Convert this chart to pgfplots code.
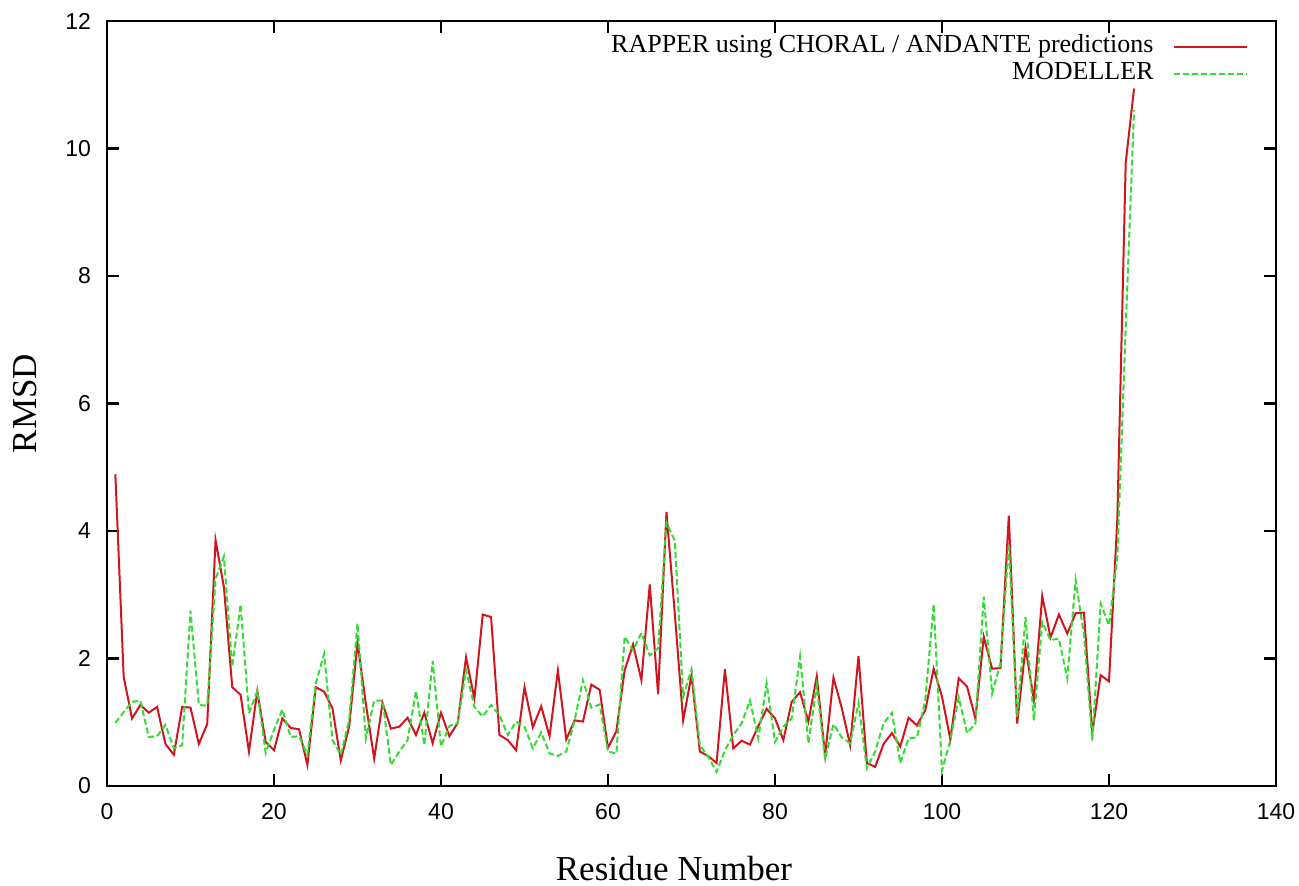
\documentclass[border=0pt]{standalone}
\usepackage{fontspec}
\setmainfont{Liberation Serif}
\newfontfamily\ticksans{Liberation Sans}
\usepackage{pgfplots}
\usepackage{pgfplotstable}
\pgfplotsset{compat=1.18}

\definecolor{gpred}{RGB}{210,20,30}
\definecolor{gpgreen}{RGB}{50,220,50}

% residue, RAPPER, MODELLER
\pgfplotstableread{
x red green
1 4.89 0.99
2 1.71 1.16
3 1.06 1.32
4 1.27 1.34
5 1.15 0.77
6 1.24 0.78
7 0.66 0.96
8 0.49 0.59
9 1.24 0.64
10 1.23 2.75
11 0.66 1.27
12 0.97 1.26
13 3.86 3.25
14 3.12 3.60
15 1.55 1.87
16 1.43 2.85
17 0.54 1.14
18 1.49 1.49
19 0.69 0.52
20 0.56 0.88
21 1.06 1.20
22 0.91 0.77
23 0.89 0.78
24 0.33 0.49
25 1.55 1.61
26 1.48 2.07
27 1.22 0.72
28 0.40 0.49
29 0.93 1.03
30 2.25 2.55
31 1.29 0.75
32 0.43 1.34
33 1.30 1.34
34 0.90 0.33
35 0.93 0.54
36 1.07 0.72
37 0.80 1.49
38 1.15 0.64
39 0.67 1.96
40 1.15 0.62
41 0.78 0.94
42 0.99 0.99
43 2.02 1.82
44 1.37 1.24
45 2.69 1.09
46 2.65 1.27
47 0.80 1.11
48 0.72 0.80
49 0.56 1.01
50 1.55 0.93
51 0.92 0.59
52 1.25 0.84
53 0.78 0.51
54 1.81 0.47
55 0.73 0.54
56 1.03 1.03
57 1.01 1.66
58 1.59 1.23
59 1.51 1.28
60 0.60 0.54
61 0.86 0.51
62 1.82 2.34
63 2.22 2.13
64 1.66 2.40
65 3.16 2.05
66 1.44 2.16
67 4.30 4.13
68 2.70 3.85
69 1.03 1.40
70 1.74 1.83
71 0.54 0.64
72 0.47 0.46
73 0.36 0.22
74 1.83 0.56
75 0.59 0.80
76 0.71 0.98
77 0.65 1.34
78 0.94 0.75
79 1.21 1.61
80 1.06 0.69
81 0.72 0.93
82 1.32 1.06
83 1.47 2.03
84 1.01 0.67
85 1.72 1.58
86 0.48 0.42
87 1.70 0.97
88 1.22 0.76
89 0.64 0.67
90 2.04 1.30
91 0.36 0.28
92 0.30 0.54
93 0.66 0.98
94 0.83 1.15
95 0.62 0.36
96 1.07 0.75
97 0.95 0.76
98 1.19 1.35
99 1.84 2.85
100 1.40 0.24
101 0.73 0.72
102 1.69 1.39
103 1.56 0.83
104 1.06 0.98
105 2.34 2.97
106 1.84 1.45
107 1.85 1.92
108 4.24 3.80
109 0.98 1.09
110 2.17 2.65
111 1.35 1.03
112 2.98 2.57
113 2.33 2.29
114 2.69 2.31
115 2.39 1.69
116 2.71 3.23
117 2.72 2.37
118 0.83 0.72
119 1.74 2.86
120 1.64 2.52
121 4.20 3.60
122 9.78 7.20
123 10.94 10.60
}\rmsd

\begin{document}
\begin{tikzpicture}
    \begin{axis}[
    scale only axis,
    width=584.5pt,
    height=382.5pt,
    xmin=0, xmax=140,
    ymin=0, ymax=12,
    xtick={0,20,...,140},
    ytick={0,2,...,12},
    tick align=inside,
    xtick pos=both,
    ytick pos=both,
    major tick length=6pt,
    axis line style={line width=1.1pt},
    every tick/.style={black, line width=1.1pt},
    /pgf/number format/assume math mode=true,
    ticklabel style={font=\ticksans\fontsize{11.5}{13}\selectfont},
    xticklabel style={yshift=-5pt},
    yticklabel style={xshift=-4.5pt},
    xlabel={Residue Number},
    ylabel={RMSD},
    label style={font=\fontsize{17.5}{20}\selectfont},
    xlabel style={at={(axis description cs:0.485,-0.1229)}, anchor=base, inner sep=0pt},
    ylabel style={at={(axis description cs:-0.0599,0.5)}, anchor=base},
    legend plot pos=right,
    legend cell align=right,
    legend image code/.code={\draw[#1] (0pt,0pt) -- (36.5pt,0pt);},
    legend style={draw=none, fill=none,
        at={(axis description cs:1,1)}, anchor=north east,
        xshift=-11pt, yshift=-4pt,
        font=\fontsize{13}{15}\selectfont,
        column sep=9.5pt, row sep=0pt,
        nodes={inner sep=0pt, text height=9.5pt, text depth=4pt}},
    ]
    \addplot[color=gpred, line width=1pt] table[x=x, y=red] {\rmsd};
    \addlegendentry{RAPPER using CHORAL / ANDANTE predictions}
    \addplot[color=gpgreen, line width=1pt, dash pattern=on 3pt off 1.5pt] table[x=x, y=green] {\rmsd};
    \addlegendentry{MODELLER}
    \coordinate (bl) at (rel axis cs:0,0);
    \coordinate (tr) at (rel axis cs:1,1);
    \end{axis}
    \pgfresetboundingbox
    \path[use as bounding box] ([shift={(-53.5pt,-50pt)}]bl) rectangle ([shift={(11.5pt,10.5pt)}]tr);
\end{tikzpicture}
\end{document}
